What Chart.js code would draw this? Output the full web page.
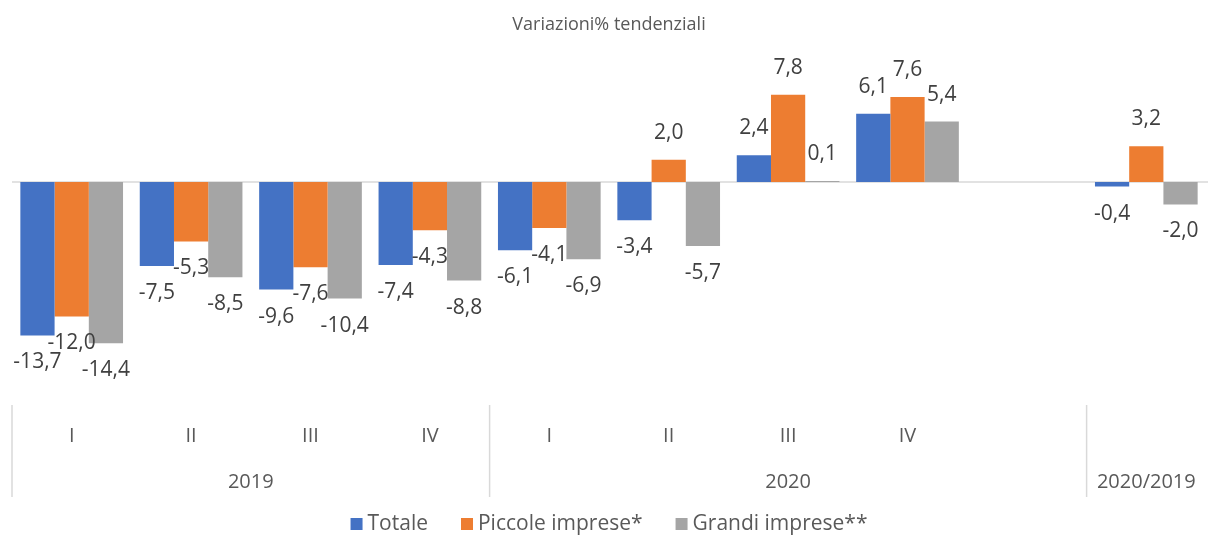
<!DOCTYPE html>
<html>
<head>
<meta charset="utf-8">
<script src="https://cdn.jsdelivr.net/npm/chart.js@4/dist/chart.umd.min.js"></script>
<style>
  html, body { margin: 0; padding: 0; background: #ffffff; }
  #wrap { width: 1208px; height: 535px; }
</style>
</head>
<body>
<div id="wrap"><canvas id="barChart"></canvas></div>
<script>
    // quarter labels (the 9th slot is empty, the last one is the yearly figure)
    const quarterLabels = ['I', 'II', 'III', 'IV', 'I', 'II', 'III', 'IV', '', ''];
    const yearLabels = ['2019', '2020', '2020/2019'];
    const yearSpans = [4, 5, 1];

    const totale = [-13.7, -7.5, -9.6, -7.4, -6.1, -3.4, 2.4, 6.1, null, -0.4];
    const piccole = [-12.0, -5.3, -7.6, -4.3, -4.1, 2.0, 7.8, 7.6, null, 3.2];
    const grandi = [-14.4, -8.5, -10.4, -8.8, -6.9, -5.7, 0.1, 5.4, null, -2.0];

    const fontFamily = "'Open Sans', 'Liberation Sans', sans-serif";
    const textColor = '#595959';
    const lineColor = '#d9d9d9';

    // zero line, value labels, the two-level category axis and the legend
    const excelLook = {
        id: 'excelLook',
        beforeDatasetsDraw(chart) {
            const ctx = chart.ctx;
            const area = chart.chartArea;
            const y0 = chart.scales.y.getPixelForValue(0);
            ctx.save();
            ctx.strokeStyle = lineColor;
            ctx.lineWidth = 1.5;
            ctx.beginPath();
            ctx.moveTo(area.left, y0);
            ctx.lineTo(area.right + 2, y0);
            ctx.stroke();
            ctx.restore();
        },
        afterDatasetsDraw(chart) {
            const ctx = chart.ctx;
            ctx.save();
            ctx.font = '21px ' + fontFamily;
            ctx.fillStyle = '#404040';
            ctx.textAlign = 'center';
            ctx.textBaseline = 'middle';
            chart.data.datasets.forEach((ds, di) => {
                const meta = chart.getDatasetMeta(di);
                meta.data.forEach((bar, i) => {
                    const v = ds.data[i];
                    if (v === null || v === undefined) return;
                    const y = v >= 0 ? bar.y - 27 : bar.y + 27;
                    ctx.fillText(v.toFixed(1).replace('.', ','), bar.x, y);
                });
            });
            ctx.restore();
        },
        afterDraw(chart) {
            const ctx = chart.ctx;
            const x = chart.scales.x;
            const step = x.getPixelForValue(1) - x.getPixelForValue(0);
            ctx.save();
            ctx.fillStyle = textColor;
            ctx.textAlign = 'center';
            ctx.textBaseline = 'middle';
            ctx.font = '20px ' + fontFamily;
            quarterLabels.forEach((q, i) => {
                if (q) ctx.fillText(q, x.getPixelForValue(i), x.top + 36);
            });
            let start = 0;
            ctx.strokeStyle = lineColor;
            ctx.lineWidth = 1.5;
            yearLabels.forEach((label, g) => {
                const end = start + yearSpans[g] - 1;
                const left = x.getPixelForValue(start) - step / 2;
                ctx.beginPath();
                ctx.moveTo(left, x.top + 5);
                ctx.lineTo(left, x.top + 97);
                ctx.stroke();
                const mid = (x.getPixelForValue(start) + x.getPixelForValue(end)) / 2;
                ctx.fillText(label, mid, x.top + 82);
                start = end + 1;
            });

            // legend, Excel style: small square, short gap, wide spacing
            ctx.font = '21px ' + fontFamily;
            ctx.textAlign = 'left';
            const box = 12, gap = 5, spacing = 33;
            const items = chart.data.datasets.map(ds => ({
                text: ds.label, color: ds.backgroundColor, w: ctx.measureText(ds.label).width
            }));
            const total = items.reduce((s, it) => s + box + gap + it.w, 0) + spacing * (items.length - 1);
            const area = chart.chartArea;
            let lx = (area.left + area.right) / 2 - total / 2;
            const ly = x.top + 124;
            items.forEach(it => {
                ctx.fillStyle = it.color;
                ctx.fillRect(lx, ly - box / 2, box, box);
                ctx.fillStyle = textColor;
                ctx.fillText(it.text, lx + box + gap, ly);
                lx += box + gap + it.w + spacing;
            });
            ctx.restore();
        }
    };

    function renderChart() {
        const ctx = document.getElementById('barChart').getContext('2d');
        new Chart(ctx, {
            type: 'bar',
            data: {
                labels: quarterLabels,
                datasets: [
                    { label: 'Totale', data: totale, backgroundColor: '#4472c4' },
                    { label: 'Piccole imprese*', data: piccole, backgroundColor: '#ed7d31' },
                    { label: 'Grandi imprese**', data: grandi, backgroundColor: '#a5a5a5' },
                ],
            },
            options: {
                responsive: true,
                maintainAspectRatio: false,
                animation: false,
                datasets: {
                    bar: { categoryPercentage: 0.86, barPercentage: 1.0 }
                },
                layout: { padding: { left: 12, right: 2, top: 0, bottom: 54 } },
                scales: {
                    x: {
                        grid: { display: false },
                        border: { display: false },
                        ticks: { display: false },
                        afterFit: scale => { scale.height = 81; },
                    },
                    y: {
                        display: false,
                        min: -19.46,
                        max: 11.79,
                    },
                },
                plugins: {
                    title: {
                        display: true,
                        text: 'Variazioni% tendenziali',
                        color: textColor,
                        font: { family: fontFamily, size: 18, weight: 'normal' },
                        padding: { top: 14, bottom: 14.4 },
                    },
                    legend: { display: false },
                    tooltip: { enabled: false },
                },
            },
            plugins: [excelLook],
        });
    }

    document.addEventListener('DOMContentLoaded', function () {
        renderChart();
    });
</script>
</body>
</html>
